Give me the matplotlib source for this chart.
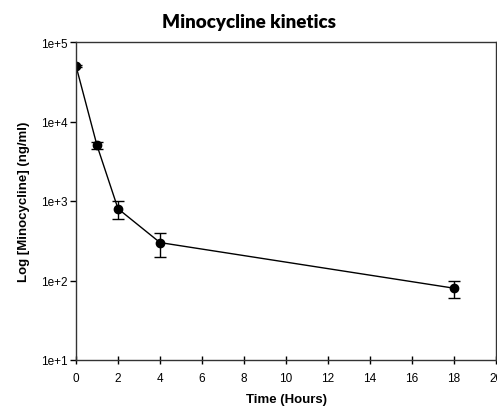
import matplotlib
matplotlib.use("Agg")
import matplotlib.pyplot as plt
from matplotlib.ticker import FuncFormatter, FixedLocator, NullLocator

# data
time_h = [0, 1, 2, 4, 18]
conc = [50000, 5000, 800, 300, 80]
err = [2000, 500, 200, 100, 20]

x_ticks = list(range(0, 21, 2))
y_ticks = [1e1, 1e2, 1e3, 1e4, 1e5]

plt.rcParams['font.family'] = ['Liberation Sans', 'DejaVu Sans']

fig = plt.figure(figsize=(4.97, 4.10), dpi=100)
ax = fig.add_axes([76 / 497, 49 / 410, 420 / 497, 318 / 410])

ax.errorbar(time_h, conc, yerr=err, color='black', lw=1.0, marker='o',
            markersize=6, capsize=4.5, elinewidth=1.0, capthick=1.0)

ax.set_yscale('log')
ax.set_xlim(0, 20)
ax.set_ylim(1e1, 1e5)
ax.xaxis.set_major_locator(FixedLocator(x_ticks))
ax.yaxis.set_major_locator(FixedLocator(y_ticks))
ax.yaxis.set_minor_locator(NullLocator())


def exp_fmt(v, pos):
    import math
    return "1e+%d" % round(math.log10(v))


ax.yaxis.set_major_formatter(FuncFormatter(exp_fmt))
ax.tick_params(axis='x', direction='inout', length=6, width=1, labelsize=8.5, pad=6)
ax.tick_params(axis='y', direction='out', length=4, width=1, labelsize=8.5, pad=2)
for s in ax.spines.values():
    s.set_linewidth(1.0)
    s.set_color('#333333')

ax.set_xlabel('Time (Hours)', fontsize=9.5, fontweight='bold', labelpad=6)
ax.set_ylabel('Log [Minocycline] (ng/ml)', fontsize=9.5, fontweight='bold', labelpad=8)
fig.text(0.5, 0.945, 'Minocycline kinetics', ha='center', va='center',
         fontsize=13.5, fontweight='heavy', family=['Lato', 'DejaVu Sans'])

fig.savefig('out.png', dpi=100)
